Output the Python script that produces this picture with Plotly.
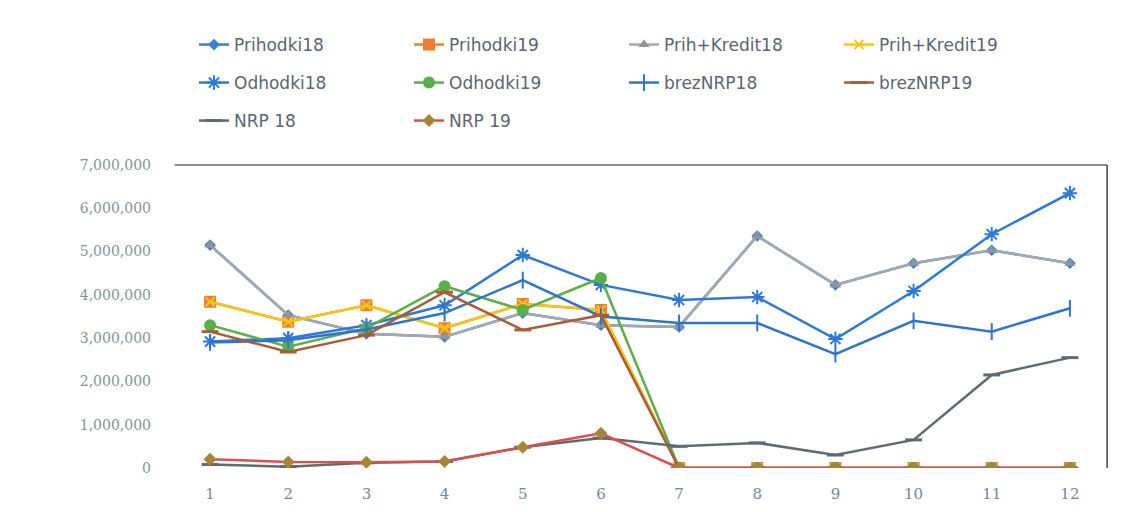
import plotly.graph_objects as go

months = [str(i) for i in range(1, 13)]

prihodki18 = [5150000, 3530000, 3100000, 3030000, 3580000, 3300000, 3260000, 5360000, 4230000, 4730000, 5030000, 4730000]
prihodki19 = [3840000, 3380000, 3760000, 3230000, 3790000, 3650000, 0, 0, 0, 0, 0, 0]
prih_kredit18 = [5150000, 3530000, 3100000, 3030000, 3580000, 3300000, 3260000, 5360000, 4230000, 4730000, 5030000, 4730000]
prih_kredit19 = [3840000, 3380000, 3760000, 3230000, 3790000, 3650000, 0, 0, 0, 0, 0, 0]
odhodki18 = [2920000, 3000000, 3300000, 3760000, 4920000, 4230000, 3880000, 3950000, 2980000, 4090000, 5400000, 6350000]
odhodki19 = [3300000, 2800000, 3230000, 4200000, 3650000, 4390000, 0, 0, 0, 0, 0, 0]
breznrp18 = [2900000, 2950000, 3200000, 3580000, 4340000, 3500000, 3350000, 3350000, 2630000, 3400000, 3150000, 3690000]
breznrp19 = [3150000, 2680000, 3070000, 4060000, 3190000, 3530000, 0, 0, 0, 0, 0, 0]
nrp18 = [80000, 30000, 120000, 150000, 480000, 690000, 500000, 580000, 300000, 650000, 2150000, 2550000]
nrp19 = [200000, 140000, 130000, 150000, 480000, 800000, 0, 0, 0, 0, 0, 0]

y_ticks = [0, 1000000, 2000000, 3000000, 4000000, 5000000, 6000000, 7000000]
y_labels = ["0", "1,000,000", "2,000,000", "3,000,000", "4,000,000", "5,000,000", "6,000,000", "7,000,000"]

series = [
    ("Prihodki18", prihodki18, "#3a7fd5", "#3a7fd5", "diamond", 9, 0, "legend"),
    ("Prihodki19", prihodki19, "#ED7D31", "#ED7D31", "square", 12, 0, "legend"),
    ("Prih+Kredit18", prih_kredit18, "#A5A9AD", "#8E969C", "triangle-up", 10, 0, "legend"),
    ("Prih+Kredit19", prih_kredit19, "#F5C518", "#F5C518", "x-thin-open", 9, 2, "legend"),
    ("Odhodki18", odhodki18, "#2E78D6", "#2E78D6", "asterisk-open", 12, 2, "legend2"),
    ("Odhodki19", odhodki19, "#5BAF4A", "#5BAF4A", "circle", 12, 0, "legend2"),
    ("brezNRP18", breznrp18, "#2F74CC", "#2F74CC", "line-ns-open", 12, 2, "legend2"),
    ("brezNRP19", breznrp19, "#A85D3A", "#A85D3A", "line-ew-open", 12, 3, "legend2"),
    ("NRP 18", nrp18, "#5F6B73", "#5F6B73", "line-ew-open", 12, 3, "legend3"),
    ("NRP 19", nrp19, "#D9504F", "#A8843A", "diamond", 10, 0, "legend3"),
]

fig = go.Figure()
for name, vals, lc, mc, sym, size, mlw, leg in series:
    marker = dict(symbol=sym, size=size, color=mc)
    if mlw:
        marker["line"] = dict(color=mc, width=mlw)
    fig.add_trace(go.Scatter(
        x=months, y=vals, name=name, mode="lines+markers",
        line=dict(color=lc, width=2.5), marker=marker, legend=leg,
    ))

# page body has an 8px default margin; compensate
OFF = 8
W, H = 1130 - OFF, 512 - OFF
plot_left, plot_right = 171 - OFF, 1109 - OFF
plot_top, plot_bottom = 165 - OFF, 468 - OFF

def ycont(py):
    return 1 - (py - OFF) / H

legfont = dict(family="DejaVu Sans", size=17, color="#5a6570")
legx = (194 - OFF) / W
common = dict(orientation="h", x=legx, xref="container", yref="container",
              xanchor="left", yanchor="middle",
              entrywidth=170, entrywidthmode="pixels", font=legfont,
              bgcolor="rgba(0,0,0,0)", traceorder="normal")

fig.update_layout(
    width=W, height=H,
    margin=dict(l=plot_left, r=W - plot_right, t=plot_top, b=H - plot_bottom, autoexpand=False),
    paper_bgcolor="white", plot_bgcolor="white",
    legend=dict(y=ycont(45), **common),
    legend2=dict(y=ycont(83), **common),
    legend3=dict(y=ycont(121), **common),
    xaxis=dict(
        type="category", range=[-0.5, 11.5], showgrid=False, zeroline=False,
        showline=False, ticks="", ticklabelstandoff=15,
        tickfont=dict(family="DejaVu Serif", size=15, color="#6f88a0"),
    ),
    yaxis=dict(
        range=[0, 7000000], tickvals=y_ticks, ticktext=y_labels, showgrid=False,
        zeroline=False, showline=False, ticks="", ticklabelstandoff=19,
        tickfont=dict(family="DejaVu Serif", size=14, color="#7f9398"),
    ),
    shapes=[
        dict(type="line", xref="paper", yref="paper", x0=0.004, x1=0.998, y0=1, y1=1,
             line=dict(color="#8a8a8a", width=2)),
        dict(type="line", xref="paper", yref="paper", x0=0.998, x1=0.998, y0=1, y1=0.0,
             line=dict(color="#444444", width=1.5)),
    ],
)

fig.write_html("out.html")
